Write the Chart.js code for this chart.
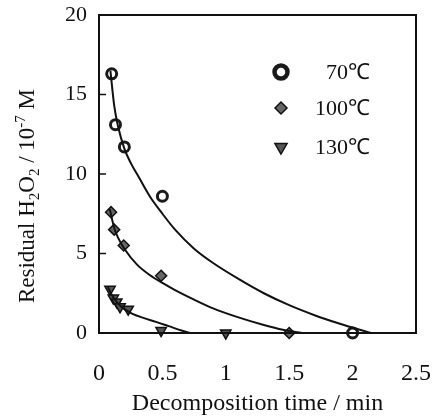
<!DOCTYPE html>
<html>
<head>
<meta charset="utf-8">
<script src="https://cdn.jsdelivr.net/npm/chart.js@4/dist/chart.umd.min.js"></script>
<style>
html,body{margin:0;padding:0;background:#fff;}
#wrap{width:435px;height:419px;}
</style>
</head>
<body>
<div id="wrap"><canvas id="c" width="435" height="419"></canvas></div>
<script>
// ---- data ----
const seriesLabels = ['70℃', '100℃', '130℃'];
// measured points
const t70 = [0.1, 0.13, 0.2, 0.5, 2.0];
const y70 = [16.3, 13.1, 11.7, 8.6, 0];
const t100 = [0.095, 0.12, 0.195, 0.49, 1.5];
const y100 = [7.6, 6.5, 5.5, 3.6, 0];
const t130 = [0.087, 0.113, 0.14, 0.166, 0.23, 0.49, 1.0];
const y130 = [2.75, 2.2, 1.95, 1.65, 1.5, 0.15, 0];
// fitted curves
const t70c = [0.09, 0.12, 0.15, 0.2, 0.25, 0.3, 0.4, 0.5, 0.6, 0.75, 0.9, 1.1, 1.3, 1.5, 1.7, 1.9, 2.05, 2.15];
const y70c = [16.5, 14.3, 13.0, 11.6, 10.7, 10.0, 8.6, 7.5, 6.5, 5.3, 4.4, 3.4, 2.5, 1.75, 1.12, 0.58, 0.22, 0];
const t100c = [0.085, 0.12, 0.15, 0.2, 0.3, 0.4, 0.5, 0.6, 0.75, 0.9, 1.1, 1.3, 1.45, 1.6];
const y100c = [7.8, 6.6, 6.0, 5.3, 4.3, 3.65, 3.15, 2.7, 2.1, 1.55, 0.98, 0.5, 0.2, 0];
const t130c = [0.07, 0.1, 0.15, 0.2, 0.26, 0.35, 0.45, 0.55, 0.65, 0.72];
const y130c = [2.9, 2.4, 1.85, 1.5, 1.22, 0.95, 0.7, 0.43, 0.16, 0];
const xTickLabels = ['0', '0.5', '1', '1.5', '2', '2.5'];
const yTickLabels = ['0', '5', '10', '15', '20'];
const xTitle = 'Decomposition time / min';
// y title pieces: [text, kind]
const yTitleParts = [['Residual H', 'n'], ['2', 'sub'], ['O', 'n'], ['2', 'sub'], [' / 10', 'n'], ['-7', 'sup'], [' M', 'n']];

const pts = (xs, ys) => xs.map((x, i) => ({x: x, y: ys[i]}));
const SERIF = '"Liberation Serif", "Times New Roman", serif';
const INK = '#111';

const styles = [
  {pointStyle: 'circle', radius: 5, rotation: 0, bg: '#fff', border: '#1a1a1a', bw: 3},
  {pointStyle: 'rectRot', radius: 5.5, rotation: 0, bg: '#666', border: '#111', bw: 1.5},
  {pointStyle: 'triangle', radius: 6, rotation: 180, bg: '#555', border: '#111', bw: 1.5}
];

function curveDs(xs, ys) {
  return {type: 'scatter', data: pts(xs, ys), showLine: true, pointRadius: 0, borderColor: INK,
    borderWidth: 2, cubicInterpolationMode: 'monotone', fill: false, clip: false};
}
function pointDs(xs, ys, s, label) {
  return {type: 'scatter', label: label, data: pts(xs, ys), showLine: false, pointStyle: s.pointStyle,
    pointRadius: s.radius, pointRotation: s.rotation, pointBackgroundColor: s.bg,
    pointBorderColor: s.border, pointBorderWidth: s.bw, clip: false};
}

const frame = {
  id: 'frame',
  afterDraw(chart) {
    const {ctx, chartArea: a, scales} = chart;
    ctx.save();
    ctx.strokeStyle = INK;
    ctx.lineWidth = 2;
    ctx.strokeRect(a.left, a.top, a.right - a.left, a.bottom - a.top);
    // inward y ticks
    ctx.lineWidth = 1.5;
    [5, 10, 15].forEach(v => {
      const y = scales.y.getPixelForValue(v);
      ctx.beginPath(); ctx.moveTo(a.left, y); ctx.lineTo(a.left + 7, y); ctx.stroke();
    });
    // y title with sub/superscripts
    const big = 23, small = 15;
    const fontFor = k => (k === 'n' ? big : small) + 'px ' + SERIF;
    let W = 0;
    yTitleParts.forEach(p => { ctx.font = fontFor(p[1]); W += ctx.measureText(p[0]).width; });
    ctx.translate(34, 196);
    ctx.rotate(-Math.PI / 2);
    ctx.fillStyle = INK;
    ctx.textBaseline = 'alphabetic';
    ctx.textAlign = 'left';
    let x = -W / 2;
    yTitleParts.forEach(p => {
      ctx.font = fontFor(p[1]);
      const dy = p[1] === 'sub' ? 5 : (p[1] === 'sup' ? -9 : 0);
      ctx.fillText(p[0], x, dy);
      x += ctx.measureText(p[0]).width;
    });
    ctx.restore();

    // legend
    ctx.save();
    const legY = [72, 108, 147];
    seriesLabels.forEach((lab, i) => {
      const s = styles[i];
      ctx.fillStyle = s.bg;
      ctx.strokeStyle = s.border;
      ctx.lineWidth = i === 0 ? 4.5 : s.bw;
      const r = i === 0 ? 6.5 : (i === 1 ? 6 : 7);
      Chart.helpers.drawPoint(ctx, {pointStyle: s.pointStyle, radius: r, rotation: s.rotation, borderWidth: ctx.lineWidth}, 281, legY[i]);
      ctx.fillStyle = INK;
      ctx.font = '22px ' + SERIF;
      ctx.textAlign = 'right';
      ctx.textBaseline = 'middle';
      ctx.fillText(lab, 370, legY[i] + 1);
    });
    ctx.restore();
  }
};

new Chart(document.getElementById('c'), {
  type: 'scatter',
  data: {
    datasets: [
      curveDs(t70c, y70c), curveDs(t100c, y100c), curveDs(t130c, y130c),
      pointDs(t70, y70, styles[0], seriesLabels[0]),
      pointDs(t100, y100, styles[1], seriesLabels[1]),
      pointDs(t130, y130, styles[2], seriesLabels[2])
    ]
  },
  options: {
    responsive: false,
    animation: false,
    devicePixelRatio: 1,
    layout: {padding: {top: 15, right: 19, left: 0, bottom: 0}},
    plugins: {legend: {display: false}, tooltip: {enabled: false}, title: {display: false}},
    scales: {
      x: {
        type: 'linear', min: 0, max: 2.5,
        grid: {display: false, drawTicks: false},
        border: {display: false},
        ticks: {stepSize: 0.5, padding: 26, color: INK, font: {family: SERIF, size: 24},
          callback: (v) => { const i = Math.round(v / 0.5); return xTickLabels[i]; }},
        title: {display: true, text: xTitle, color: INK, font: {family: SERIF, size: 24}, padding: {top: 0, bottom: 1}},
        afterFit: (s) => { s.height = 86; s.paddingLeft = 0; s.paddingRight = 0; }
      },
      y: {
        type: 'linear', min: 0, max: 20,
        grid: {display: false, drawTicks: false},
        border: {display: false},
        ticks: {stepSize: 5, padding: 12, color: INK, font: {family: SERIF, size: 22},
          callback: (v) => yTickLabels[Math.round(v / 5)]},
        afterFit: (s) => { s.width = 99; s.paddingTop = 0; s.paddingBottom = 0; }
      }
    }
  },
  plugins: [frame]
});
</script>
</body>
</html>
